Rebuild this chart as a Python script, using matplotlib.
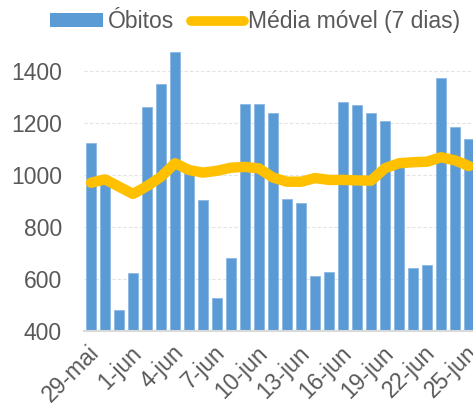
import matplotlib
matplotlib.use("Agg")
import matplotlib.pyplot as plt
import matplotlib.transforms as mtransforms
from matplotlib.patches import Patch
from matplotlib.lines import Line2D

dates = ["29-mai", "30-mai", "31-mai"] + [f"{d}-jun" for d in range(1, 26)]
obitos = [1123, 975, 480, 623, 1262, 1349, 1472, 1020, 903, 526, 680, 1272, 1272,
          1238, 908, 890, 612, 627, 1281, 1267, 1236, 1205, 1030, 641, 653, 1372, 1183, 1138]
media = [969, 982, 954, 926, 956, 992, 1044, 1018, 1008, 1015, 1027, 1030, 1024,
         989, 973, 973, 987, 980, 980, 978, 977, 1025, 1044, 1048, 1050, 1067, 1055, 1033]
yticks = [400, 600, 800, 1000, 1200, 1400]

plt.rcParams['font.family'] = ['Liberation Sans', 'DejaVu Sans']
W, H, DPI = 473, 408, 100
fig = plt.figure(figsize=(W / DPI, H / DPI), dpi=DPI)
ax = fig.add_axes([84 / W, (H - 330.7) / H, 1 - 84 / W, (330.7 - 44.7) / H])

x = list(range(len(dates)))
ax.bar(x, obitos, width=0.74, color='#5B9BD5', edgecolor='#8DB8E3', linewidth=0.6, zorder=2)
ax.plot(x, media, color='#FFC000', lw=7.5, solid_capstyle='round', solid_joinstyle='round', zorder=3)

ax.set_ylim(400, 1500)
ax.set_xlim(-0.5, (473 - 84) / 14 - 0.5)
ax.set_yticks(yticks)
ax.set_yticklabels([str(v) for v in yticks], fontsize=16.5, color='#595959')
tick_idx = list(range(0, len(dates), 3))
ax.set_xticks(tick_idx)
ax.set_xticklabels([dates[i] for i in tick_idx], rotation=45, ha='right', va='center',
                   rotation_mode='anchor', fontsize=16.5, color='#595959')
ax.tick_params(axis='x', length=0, pad=13.5)
ax.tick_params(axis='y', length=0, pad=16)
offset = mtransforms.ScaledTranslation(5 / DPI, 0, fig.dpi_scale_trans)
for lbl in ax.get_xticklabels():
    lbl.set_transform(lbl.get_transform() + offset)
for s in ['top', 'right', 'left']:
    ax.spines[s].set_visible(False)
ax.spines['bottom'].set_color('#d9d9d9')
ax.spines['bottom'].set_linewidth(1.5)
ax.yaxis.grid(True, color='#e3e3e3', lw=0.8, linestyle=(0, (3, 2)), zorder=0)
ax.set_axisbelow(True)

handles = [Patch(facecolor='#5B9BD5', edgecolor='none'),
           Line2D([0], [0], color='#FFC000', lw=7, solid_capstyle='round')]
fig.legend(handles, ['Óbitos', 'Média móvel (7 dias)'], loc='upper left',
           bbox_to_anchor=(40 / W, 1.0), ncol=2, frameon=False, fontsize=16.5,
           labelcolor='#595959', handlelength=2.3, handleheight=0.55, handletextpad=0.2,
           columnspacing=0.75, borderaxespad=0.05)

fig.savefig('out.png', dpi=DPI)
